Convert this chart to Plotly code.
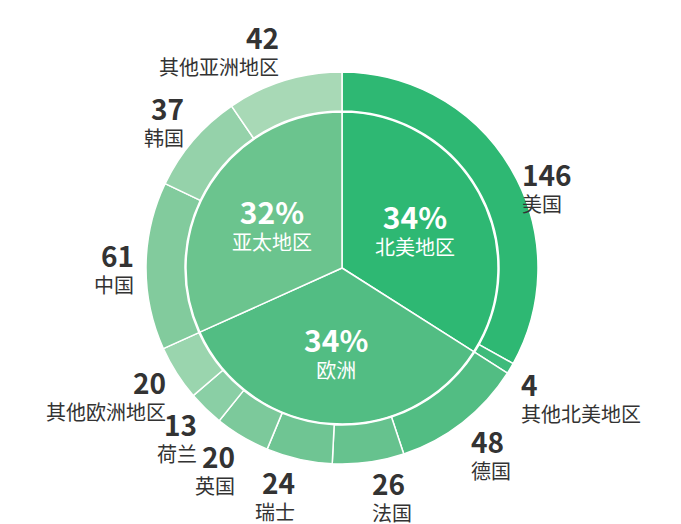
import math
import plotly.graph_objects as go

# ---------------- data ----------------
regions = ["北美地区", "欧洲", "亚太地区"]
region_colors = ["#2eb873", "#52bd83", "#6bc48e"]

countries = ["美国", "其他北美地区", "德国", "法国", "瑞士", "英国", "荷兰",
             "其他欧洲地区", "中国", "韩国", "其他亚洲地区"]
country_values = [146, 4, 48, 26, 24, 20, 13, 20, 61, 37, 42]
country_region = ["北美地区", "北美地区", "欧洲", "欧洲", "欧洲", "欧洲", "欧洲",
                  "欧洲", "亚太地区", "亚太地区", "亚太地区"]
country_colors = ["#2eb873", "#3ebb7b", "#52bd83", "#66c28e", "#6fc593", "#7cc99b",
                  "#8acfa5", "#9ad5ae", "#82cb9d", "#95d2aa", "#a8d9b6"]

region_values = [sum(v for v, r in zip(country_values, country_region) if r == g)
                 for g in regions]

# ---------------- geometry ----------------
W, H = 681, 524
CX, CY = 342, 268          # pixel centre
R_OUT, R_IN = 196, 157     # pixel radii
FONT = "Noto Sans CJK SC"
LABEL_COLOR = "#333333"


def dom(r):
    return dict(x=[(CX - r) / W, (CX + r) / W],
                y=[1 - (CY + r) / H, 1 - (CY - r) / H])


fig = go.Figure()

fig.add_trace(go.Pie(
    labels=countries, values=country_values, sort=False, direction="clockwise",
    rotation=0, hole=R_IN / R_OUT, domain=dom(R_OUT),
    marker=dict(colors=country_colors, line=dict(color="white", width=1.5)),
    textinfo="none", hoverinfo="label+value", showlegend=False,
))

fig.add_trace(go.Pie(
    labels=regions, values=region_values, sort=False, direction="clockwise",
    rotation=0, domain=dom(R_IN - 1),
    marker=dict(colors=region_colors, line=dict(color="white", width=1.5)),
    textinfo="none", hoverinfo="label+percent", showlegend=False,
))

annotations = []

# ---------------- inner labels (near arc centroid) ----------------
total_r = sum(region_values)
cum = 0
for name, v in zip(regions, region_values):
    theta = math.radians(360 * (cum + v / 2) / total_r)
    cum += v
    px = CX + (R_IN * 0.53) * math.sin(theta)
    py = CY - (R_IN * 0.53) * math.cos(theta)
    annotations.append(dict(
        x=px / W, y=1 - py / H, xref="paper", yref="paper",
        text=f"<b><span style='font-size:30px'>{round(100 * v / total_r)}%</span></b><br>{name}",
        showarrow=False, xanchor="center", yanchor="middle", align="center",
        font=dict(family=FONT, size=20, color="white")))

# ---------------- outer labels ----------------
total = sum(country_values)
cum = 0
GAP = 10
BLOCK_H = 47
for name, v in zip(countries, country_values):
    theta = math.radians(360 * (cum + v / 2) / total)
    cum += v
    s, c = math.sin(theta), math.cos(theta)
    px = CX + (R_OUT + GAP) * s
    py = CY - (R_OUT + GAP) * c
    if s >= 0:
        xanchor = "left"
        top = py
    else:
        xanchor = "right"
        f = max(-1.0, min(1.1, -1.05 * c + 0.12))
        top = py - BLOCK_H / 2 + f * BLOCK_H / 2
    annotations.append(dict(
        x=px / W, y=1 - (top + BLOCK_H / 2 - 1) / H, xref="paper", yref="paper",
        text=f"<b><span style='font-size:28px'>{v}</span></b><br>{name}",
        showarrow=False, xanchor=xanchor, yanchor="middle", align=xanchor,
        font=dict(family=FONT, size=20, color=LABEL_COLOR)))

fig.update_layout(
    width=W, height=H, margin=dict(l=0, r=0, t=0, b=0),
    paper_bgcolor="white", plot_bgcolor="white",
    annotations=annotations,
)

fig.write_html("out.html", config={"displayModeBar": False},
               post_script="document.body.style.margin='0';"
                           "document.body.style.overflow='hidden';")
